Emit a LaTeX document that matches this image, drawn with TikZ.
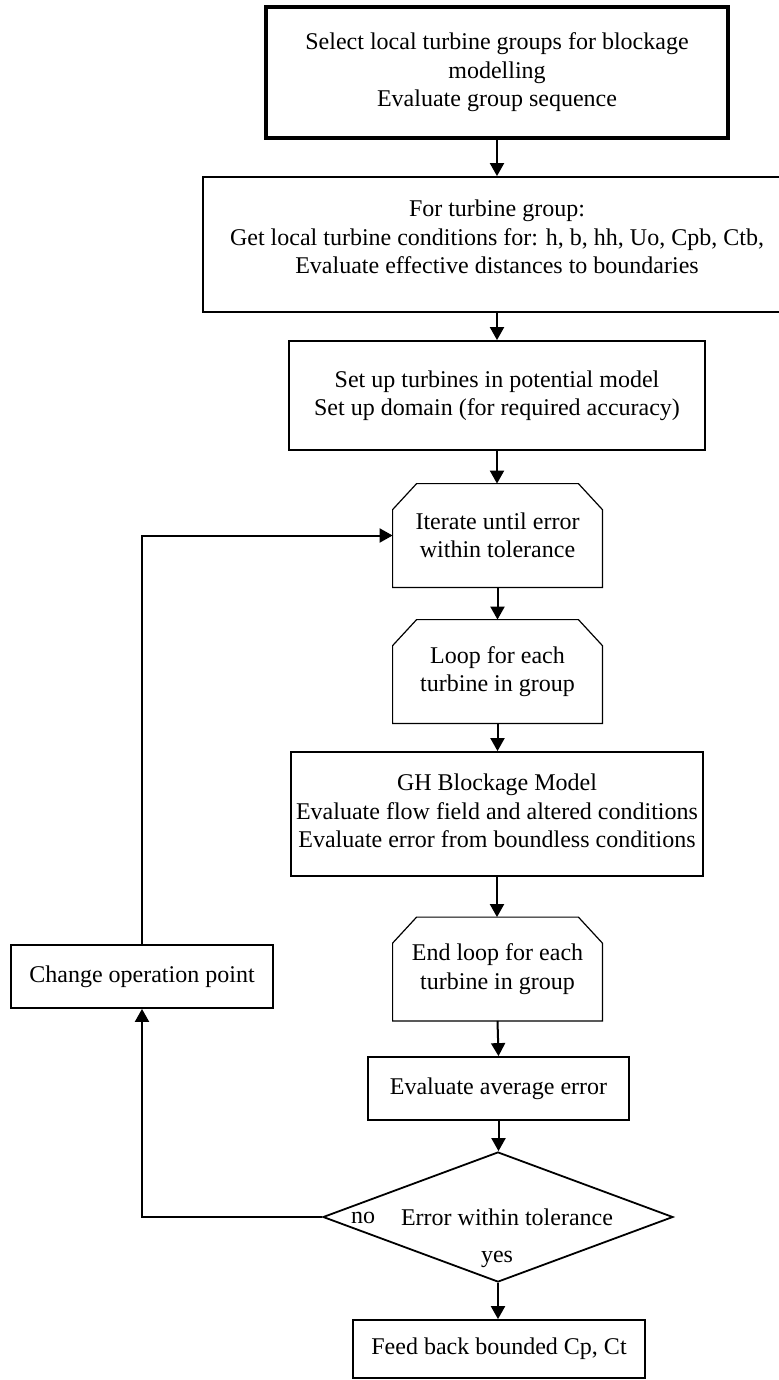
\documentclass[tikz,border=0pt]{standalone}
\usepackage{fontspec}
\setmainfont{Liberation Serif}
\usetikzlibrary{arrows.meta,shapes.geometric,calc}
\newcommand\chamferbox[1]{\draw[line width=0.6pt] (#1.south west) -- ($(#1.north west)+(0,26)$) -- ($(#1.north west)+(24,0)$) -- ($(#1.north east)+(-24,0)$) -- ($(#1.north east)+(0,26)$) -- (#1.south east) -- cycle;}
\begin{document}
\begin{tikzpicture}[x=0.5pt,y=-0.5pt,
  every node/.style={font=\fontsize{12}{14.2}\selectfont, inner sep=0pt, align=center},
  box/.style={draw, line width=0.9pt, rectangle},
  loopbox/.style={rectangle, minimum width=104.5pt, minimum height=51.5pt},
  arr/.style={line width=1pt, -{Triangle[length=6.5pt,width=7pt]}}]
\useasboundingbox (0,0) rectangle (778,1380);
\node[box, line width=1.8pt, minimum width=231pt, minimum height=65.5pt] (b1) at (497,72.5)
  {Select local turbine groups for blockage\\modelling\\Evaluate group sequence};
\node[box, minimum width=294pt, minimum height=67.5pt] (b2) at (497,244.5)
  {For turbine group:\\Get local turbine conditions for: h, b, hh, Uo, Cpb, Ctb,\\Evaluate effective distances to boundaries\rule[-7.5pt]{0pt}{7.5pt}};
\node[box, minimum width=208pt, minimum height=54.5pt] (b3) at (497,395.5)
  {Set up turbines in potential model\\Set up domain (for required accuracy)};
\node[loopbox] (it) at (497.5,535.5) {Iterate until error\\within tolerance};
\chamferbox{it}
\node[loopbox] (lp) at (497.5,671.5) {Loop for each\\turbine in group};
\chamferbox{lp}
\node[box, minimum width=206pt, minimum height=62pt] (gh) at (497,814)
  {GH Blockage Model\\Evaluate flow field and altered conditions\\Evaluate error from boundless conditions\rule[-3pt]{0pt}{3pt}};
\node[loopbox] (el) at (497.5,969) {End loop for each\\turbine in group};
\chamferbox{el}
\node[box, minimum width=130.5pt, minimum height=31.5pt] (ea) at (498.5,1088.5) {Evaluate average error};
\node[diamond, draw, line width=0.9pt, aspect=2.69, minimum width=175pt, minimum height=65pt] (d) at (498,1217) {};
\node (dt) at (507,1217) {Error within tolerance};
\node (no) at (363,1218) {no};
\node (yes) at (497,1259) {yes};
\node[box, minimum width=146pt, minimum height=29pt] (fb) at (499,1349) {Feed back bounded Cp, Ct};
\node[box, minimum width=131pt, minimum height=31.5pt] (ch) at (142,976.5) {Change operation point};
\draw[arr] (b1.south) -- (b1.south |- b2.north);
\draw[arr] (b2.south) -- (b2.south |- b3.north);
\draw[arr] (b3.south) -- (b3.south |- it.north);
\draw[arr] (it.south) -- (it.south |- lp.north);
\draw[arr] (lp.south) -- (lp.south |- gh.north);
\draw[arr] (gh.south) -- (gh.south |- el.north);
\draw[arr] (el.south) -- (ea.north);
\draw[arr] (ea.south) -- (ea.south |- d.north);
\draw[arr] (d.south) -- (d.south |- fb.north);
\draw[arr] (d.west) -| (ch.south);
\draw[arr] (ch.north) |- (it.west);
\end{tikzpicture}
\end{document}
